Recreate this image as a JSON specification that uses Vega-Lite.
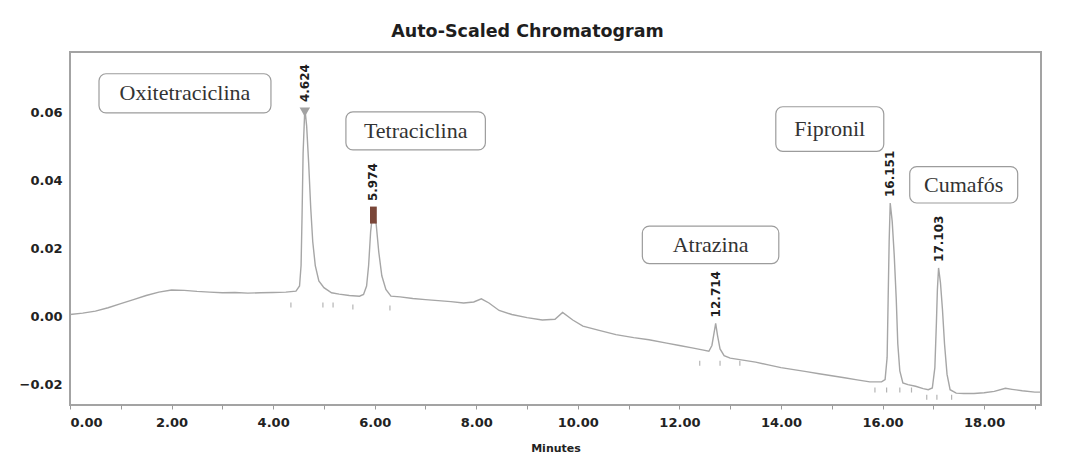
{
  "$schema": "https://vega.github.io/schema/vega-lite/v6.json",
  "width": 971,
  "height": 353,
  "autosize": {"type": "none"},
  "padding": {"left": 70, "top": 52, "right": 42, "bottom": 65},
  "background": "white",
  "config": {
    "view": {"stroke": "#a3a3a3", "strokeWidth": 2},
    "axis": {"labelFont": "DejaVu Sans", "labelFontWeight": "bold", "labelColor": "#222", "labelFontSize": 13, "grid": false, "domain": false}
  },
  "title": {
    "text": "Auto-Scaled Chromatogram",
    "font": "DejaVu Sans",
    "fontSize": 17.5,
    "fontWeight": "bold",
    "color": "#1e1e1e",
    "anchor": "middle",
    "dx": -28,
    "offset": 12
  },
  "datasets": {
    "trace": [
      {"t": 0.00, "v": 0.0006}, {"t": 0.25, "v": 0.0010}, {"t": 0.50, "v": 0.0016}, {"t": 0.75, "v": 0.0026},
      {"t": 1.00, "v": 0.0038}, {"t": 1.25, "v": 0.0050}, {"t": 1.50, "v": 0.0062}, {"t": 1.75, "v": 0.0072},
      {"t": 2.00, "v": 0.0078}, {"t": 2.25, "v": 0.0077}, {"t": 2.50, "v": 0.0074}, {"t": 2.75, "v": 0.0072},
      {"t": 3.00, "v": 0.0070}, {"t": 3.25, "v": 0.0071}, {"t": 3.50, "v": 0.0069}, {"t": 3.75, "v": 0.0070},
      {"t": 4.00, "v": 0.0071}, {"t": 4.25, "v": 0.0072}, {"t": 4.45, "v": 0.0075}, {"t": 4.52, "v": 0.0090},
      {"t": 4.55, "v": 0.0150}, {"t": 4.57, "v": 0.0300}, {"t": 4.59, "v": 0.0480}, {"t": 4.624, "v": 0.0613},
      {"t": 4.66, "v": 0.0560}, {"t": 4.70, "v": 0.0450}, {"t": 4.74, "v": 0.0320}, {"t": 4.78, "v": 0.0220},
      {"t": 4.83, "v": 0.0150}, {"t": 4.90, "v": 0.0105}, {"t": 5.00, "v": 0.0085}, {"t": 5.15, "v": 0.0070},
      {"t": 5.30, "v": 0.0066}, {"t": 5.50, "v": 0.0062}, {"t": 5.70, "v": 0.0060}, {"t": 5.78, "v": 0.0065},
      {"t": 5.84, "v": 0.0090}, {"t": 5.88, "v": 0.0150}, {"t": 5.92, "v": 0.0250}, {"t": 5.974, "v": 0.0322},
      {"t": 6.03, "v": 0.0270}, {"t": 6.08, "v": 0.0190}, {"t": 6.14, "v": 0.0120}, {"t": 6.22, "v": 0.0080},
      {"t": 6.32, "v": 0.0060}, {"t": 6.50, "v": 0.0058}, {"t": 6.75, "v": 0.0053}, {"t": 7.00, "v": 0.0050},
      {"t": 7.25, "v": 0.0047}, {"t": 7.50, "v": 0.0044}, {"t": 7.75, "v": 0.0040}, {"t": 7.95, "v": 0.0043},
      {"t": 8.10, "v": 0.0052}, {"t": 8.25, "v": 0.0040}, {"t": 8.45, "v": 0.0018}, {"t": 8.70, "v": 0.0006},
      {"t": 9.00, "v": -0.0003}, {"t": 9.30, "v": -0.0010}, {"t": 9.55, "v": -0.0008}, {"t": 9.70, "v": 0.0012},
      {"t": 9.90, "v": -0.0010}, {"t": 10.10, "v": -0.0028}, {"t": 10.40, "v": -0.0040}, {"t": 10.75, "v": -0.0053},
      {"t": 11.10, "v": -0.0062}, {"t": 11.40, "v": -0.0068}, {"t": 11.75, "v": -0.0078}, {"t": 12.00, "v": -0.0085},
      {"t": 12.25, "v": -0.0092}, {"t": 12.45, "v": -0.0098}, {"t": 12.58, "v": -0.0102}, {"t": 12.64, "v": -0.0085},
      {"t": 12.68, "v": -0.0050}, {"t": 12.714, "v": -0.0020}, {"t": 12.75, "v": -0.0055}, {"t": 12.80, "v": -0.0095},
      {"t": 12.88, "v": -0.0115}, {"t": 13.00, "v": -0.0122}, {"t": 13.25, "v": -0.0128}, {"t": 13.50, "v": -0.0134},
      {"t": 13.75, "v": -0.0142}, {"t": 14.00, "v": -0.0150}, {"t": 14.25, "v": -0.0156}, {"t": 14.50, "v": -0.0162},
      {"t": 14.75, "v": -0.0168}, {"t": 15.00, "v": -0.0174}, {"t": 15.25, "v": -0.0180}, {"t": 15.50, "v": -0.0186},
      {"t": 15.75, "v": -0.0192}, {"t": 15.98, "v": -0.0192}, {"t": 16.05, "v": -0.0185}, {"t": 16.09, "v": -0.0120},
      {"t": 16.11, "v": 0.0050}, {"t": 16.13, "v": 0.0220}, {"t": 16.151, "v": 0.0334}, {"t": 16.19, "v": 0.0280},
      {"t": 16.23, "v": 0.0180}, {"t": 16.27, "v": 0.0050}, {"t": 16.30, "v": -0.0080}, {"t": 16.34, "v": -0.0160},
      {"t": 16.40, "v": -0.0195}, {"t": 16.50, "v": -0.0200}, {"t": 16.65, "v": -0.0205}, {"t": 16.80, "v": -0.0212},
      {"t": 16.90, "v": -0.0215}, {"t": 16.98, "v": -0.0210}, {"t": 17.03, "v": -0.0150}, {"t": 17.06, "v": -0.0020},
      {"t": 17.08, "v": 0.0080}, {"t": 17.103, "v": 0.0143}, {"t": 17.14, "v": 0.0100}, {"t": 17.18, "v": 0.0020},
      {"t": 17.22, "v": -0.0080}, {"t": 17.27, "v": -0.0170}, {"t": 17.33, "v": -0.0215}, {"t": 17.45, "v": -0.0225},
      {"t": 17.60, "v": -0.0226}, {"t": 17.80, "v": -0.0226}, {"t": 18.00, "v": -0.0224}, {"t": 18.20, "v": -0.0220},
      {"t": 18.42, "v": -0.0211}, {"t": 18.55, "v": -0.0214}, {"t": 18.75, "v": -0.0218}, {"t": 19.00, "v": -0.0222},
      {"t": 19.12, "v": -0.0222}
    ],
    "events": [
      {"t": 4.35, "v": 0.0034}, {"t": 4.98, "v": 0.0034}, {"t": 5.18, "v": 0.0034},
      {"t": 5.57, "v": 0.0028}, {"t": 6.30, "v": 0.0025},
      {"t": 12.40, "v": -0.0137}, {"t": 12.80, "v": -0.0137}, {"t": 13.19, "v": -0.0137},
      {"t": 15.85, "v": -0.0216}, {"t": 16.08, "v": -0.0216}, {"t": 16.34, "v": -0.0216}, {"t": 16.57, "v": -0.0216},
      {"t": 16.87, "v": -0.0237}, {"t": 17.07, "v": -0.0237}, {"t": 17.36, "v": -0.0237}
    ],
    "peaks": [
      {"compound": "Oxitetraciclina", "rt": 4.624, "apex": 0.0613},
      {"compound": "Tetraciclina", "rt": 5.974, "apex": 0.0322},
      {"compound": "Atrazina", "rt": 12.714, "apex": -0.0020},
      {"compound": "Fipronil", "rt": 16.151, "apex": 0.0334},
      {"compound": "Cumafós", "rt": 17.103, "apex": 0.0143}
    ],
    "callouts": [
      {"compound": "Oxitetraciclina", "t": 2.264, "v": 0.0656, "t0": 0.571, "t1": 3.957, "v0": 0.0599, "v1": 0.0714},
      {"compound": "Tetraciclina", "t": 6.806, "v": 0.0546, "t0": 5.433, "t1": 8.179, "v0": 0.0490, "v1": 0.0602},
      {"compound": "Atrazina", "t": 12.614, "v": 0.0210, "t0": 11.270, "t1": 13.957, "v0": 0.0156, "v1": 0.0266},
      {"compound": "Fipronil", "t": 14.961, "v": 0.0552, "t0": 13.898, "t1": 16.024, "v0": 0.0486, "v1": 0.0617},
      {"compound": "Cumafós", "t": 17.598, "v": 0.0387, "t0": 16.535, "t1": 18.661, "v0": 0.0334, "v1": 0.0441}
    ]
  },
  "layer": [
    {
      "data": {"name": "trace"},
      "mark": {"type": "line", "color": "#a6a6a6", "strokeWidth": 1.4, "clip": true},
      "encoding": {
        "x": {
          "field": "t", "type": "quantitative", "title": "Minutes",
          "scale": {"domain": [0, 19.12], "nice": false, "zero": false},
          "axis": {
            "values": [0, 0.5, 1, 1.5, 2, 2.5, 3, 3.5, 4, 4.5, 5, 5.5, 6, 6.5, 7, 7.5, 8, 8.5, 9, 9.5, 10, 10.5, 11, 11.5, 12, 12.5, 13, 13.5, 14, 14.5, 15, 15.5, 16, 16.5, 17, 17.5, 18, 18.5, 19],
            "labelExpr": "datum.value % 2 === 0 ? format(datum.value, '.2f') : ''",
            "tickSize": 4, "tickColor": "#9a9a9a", "labelPadding": 7,
            "titleFont": "DejaVu Sans", "titleFontSize": 11, "titleFontWeight": "bold", "titleColor": "#222",
            "titlePadding": 13
          }
        },
        "y": {
          "field": "v", "type": "quantitative", "title": null,
          "scale": {"domain": [-0.026, 0.0778], "nice": false, "zero": false},
          "axis": {
            "values": [-0.02, 0, 0.02, 0.04, 0.06],
            "format": ".2f",
            "ticks": false, "labelPadding": 8
          }
        }
      }
    },
    {
      "data": {"name": "events"},
      "mark": {"type": "tick", "orient": "vertical", "size": 5, "thickness": 1.2, "color": "#b4b4b4", "opacity": 1},
      "encoding": {
        "x": {"field": "t", "type": "quantitative", "title": "Minutes"},
        "y": {"field": "v", "type": "quantitative", "title": null}
      }
    },
    {
      "data": {"name": "peaks"},
      "transform": [{"filter": "datum.compound === 'Oxitetraciclina'"}],
      "mark": {"type": "point", "shape": "triangle-down", "filled": true, "color": "#a2a2a2", "size": 110, "opacity": 1, "yOffset": 4},
      "encoding": {
        "x": {"field": "rt", "type": "quantitative", "title": "Minutes"},
        "y": {"field": "apex", "type": "quantitative", "title": null}
      }
    },
    {
      "data": {"name": "peaks"},
      "transform": [{"filter": "datum.compound === 'Tetraciclina'"}],
      "mark": {"type": "point", "shape": "M-0.4,-1L0.4,-1L0.4,1L-0.4,1Z", "filled": true, "color": "#7a4638", "size": 289, "opacity": 1, "yOffset": 8},
      "encoding": {
        "x": {"field": "rt", "type": "quantitative", "title": "Minutes"},
        "y": {"field": "apex", "type": "quantitative", "title": null}
      }
    },
    {
      "data": {"name": "peaks"},
      "mark": {"type": "text", "angle": 270, "align": "left", "baseline": "middle", "dx": 6, "font": "DejaVu Sans", "fontWeight": "bold", "fontSize": 12, "color": "#1e1e1e"},
      "encoding": {
        "x": {"field": "rt", "type": "quantitative", "title": "Minutes"},
        "y": {"field": "apex", "type": "quantitative", "title": null},
        "text": {"field": "rt", "type": "quantitative", "format": ".3f"}
      }
    },
    {
      "data": {"name": "callouts"},
      "mark": {"type": "rect", "fill": "white", "stroke": "#9c9c9c", "strokeWidth": 1.2, "cornerRadius": 7},
      "encoding": {
        "x": {"field": "t0", "type": "quantitative", "title": "Minutes"},
        "x2": {"field": "t1"},
        "y": {"field": "v0", "type": "quantitative", "title": null},
        "y2": {"field": "v1"}
      }
    },
    {
      "data": {"name": "callouts"},
      "mark": {"type": "text", "font": "Liberation Serif", "fontSize": 22, "color": "#333", "align": "center", "baseline": "middle"},
      "encoding": {
        "x": {"field": "t", "type": "quantitative", "title": "Minutes"},
        "y": {"field": "v", "type": "quantitative", "title": null},
        "text": {"field": "compound", "type": "nominal"}
      }
    }
  ]
}
